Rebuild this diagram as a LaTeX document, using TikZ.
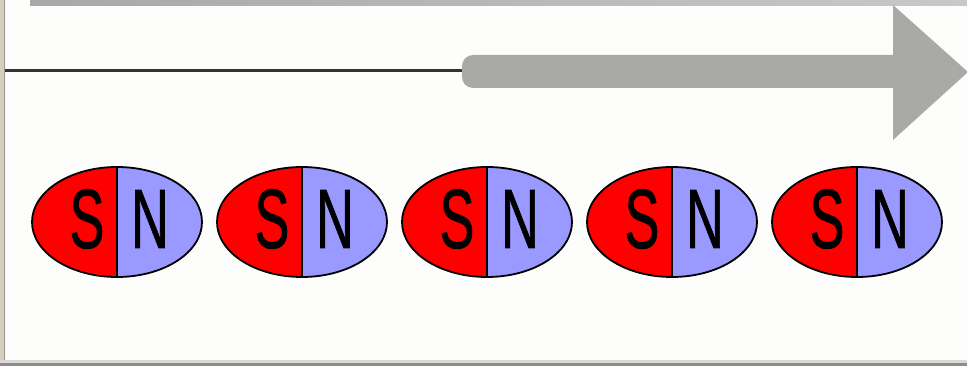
\documentclass[tikz,border=0pt]{standalone}
\usepackage{fontspec}
\setmainfont{Liberation Sans}
\newfontfamily\polefont[FakeBold=1.2]{Liberation Sans}
\usetikzlibrary{shapes.geometric}
\definecolor{pagebg}{HTML}{FDFDFB}
\definecolor{framegray}{HTML}{9A968C}
\definecolor{framelight}{HTML}{D9D9D6}
\definecolor{framedark}{HTML}{8C8C8C}
\definecolor{tan}{HTML}{D6CFC0}
\definecolor{bardark}{HTML}{A8A8A8}
\definecolor{barlight}{HTML}{C8C8C8}
\definecolor{arrowgray}{HTML}{A9AAA7}
\definecolor{wire}{HTML}{333333}
\definecolor{southred}{HTML}{FF0000}
\definecolor{northblue}{HTML}{9999FF}
\tikzset{
  pole/.style={font=\polefont\fontsize{84}{84}\selectfont, xscale=0.62, inner sep=0pt, anchor=center},
  magnetrim/.style={draw=black, line width=1.8pt},
}
\begin{document}
\begin{tikzpicture}[x=1pt,y=-1pt]
\useasboundingbox (0,0) rectangle (967,366);
% page and window frame
\fill[pagebg] (0,0) rectangle (967,366);
\fill[tan] (0,0) rectangle (4,366);
\fill[framegray] (4,0) rectangle (5,366);
\fill[framelight] (0,360) rectangle (967,363);
\fill[framedark] (0,363) rectangle (967,366);
\shade[left color=bardark, right color=barlight] (30,0) rectangle (967,6);
% wire leading into the wide arrow
\coordinate (wire start) at (5,70.5);
\coordinate (wire end) at (468,70.5);
\draw[wire, line width=3.5pt] (wire start) -- (wire end);
% wide arrow: shaft with rounded tail, then head
\fill[arrowgray] (900,55) [rounded corners=11pt] -- (462,55) -- (462,88) [sharp corners] -- (900,88) -- cycle;
\fill[arrowgray] (893,5) -- (968,72) -- (893,140) -- cycle;
% row of magnets
\foreach \i/\cx in {1/117, 2/302, 3/487, 4/672, 5/857} {
  \begin{scope}
    \clip (\cx,222) ellipse [x radius=85, y radius=55];
    \fill[southred] (\cx-90,160) rectangle (\cx,285);
    \fill[northblue] (\cx,160) rectangle (\cx+90,285);
  \end{scope}
  \node[ellipse, minimum width=170pt, minimum height=110pt, inner sep=0pt, magnetrim] (m\i) at (\cx,222) {};
  \draw[line width=1.8pt] (m\i.north) -- (m\i.south);
  \node[pole] (s\i) at (\cx-30,219) {S};
  \node[pole] (n\i) at (\cx+33,219) {N};
}
\end{tikzpicture}
\end{document}
